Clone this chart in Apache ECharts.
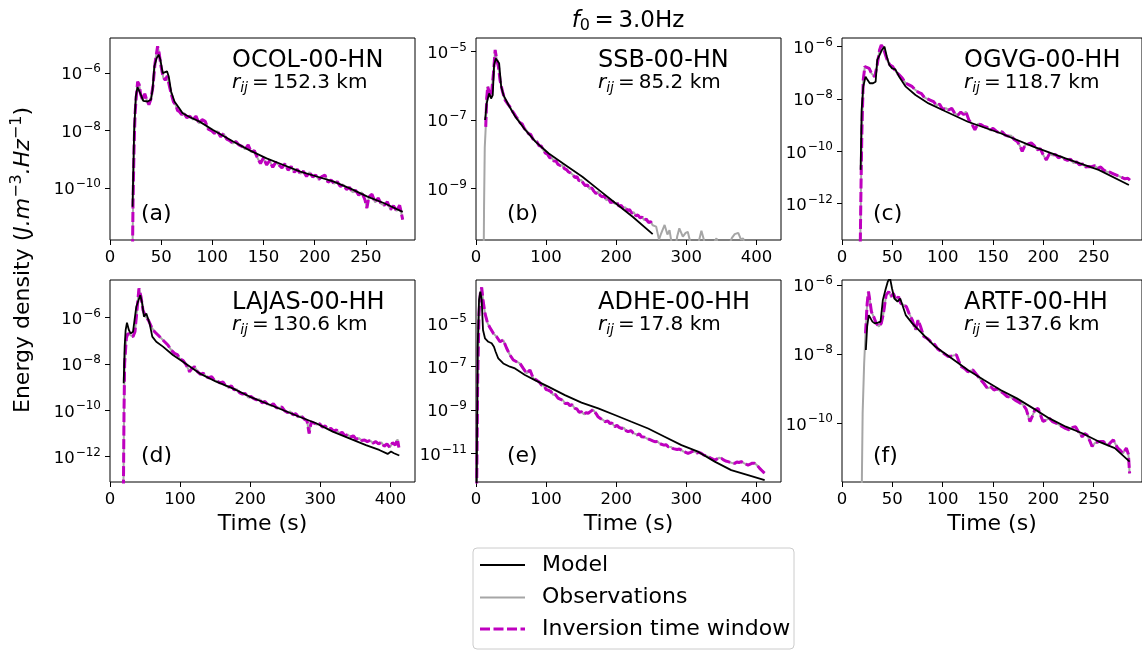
<!DOCTYPE html>
<html><head><meta charset="utf-8">
<script src="https://cdn.jsdelivr.net/npm/echarts@6/dist/echarts.min.js"></script>
<style>html,body{margin:0;padding:0;background:#fff}#c{width:1142px;height:650px}</style>
</head><body><div id="c"></div>
<script>
// ---------------- DATA (log10 of energy density) ----------------
const stations = ['OCOL-00-HN','SSB-00-HN','OGVG-00-HH','LAJAS-00-HH','ADHE-00-HH','ARTF-00-HH'];
const distances = ['152.3','85.2','118.7','130.6','17.8','137.6'];
const panelLabels = ['(a)','(b)','(c)','(d)','(e)','(f)'];
const xTicksShort = [0,50,100,150,200,250];
const xTicksLong = [0,100,200,300,400];
const yTicksA = [-10,-8,-6];
const yTicksB = [-9,-7,-5];
const yTicksC = [-12,-10,-8,-6];
const yTicksD = [-12,-10,-8,-6];
const yTicksE = [-11,-9,-7,-5];
const yTicksF = [-10,-8,-6];
const seriesNames = ['Model','Observations','Inversion time window'];
// inversion time windows (s)
const windows = [[0,1000],[13.5,252.5],[0,1000],[0,1000],[0,1000],[23.3,1000]];

const modelA = [[22,-10.65],[23.6,-7.98],[25.2,-6.81],[26.9,-6.49],[28.2,-6.44],[30.2,-6.76],[32.5,-6.97],[36.7,-6.99],[40,-6.93],[41.6,-6.58],[43.3,-5.77],[45.6,-5.48],[47.5,-5.36],[49.2,-5.53],[51.5,-6.0],[53.4,-6.06],[55.7,-5.94],[57.4,-6.12],[59.7,-6.64],[63,-6.99],[68,-7.24],[71,-7.4],[77.7,-7.53],[87.5,-7.69],[100.7,-7.98],[120.3,-8.38],[137,-8.7],[153,-8.97],[169.5,-9.2],[186,-9.43],[202,-9.6],[218.7,-9.78],[235,-10.02],[251.5,-10.3],[268,-10.53],[286,-10.83]];
const obsA = [[21.5,-14],[22.5,-10.5],[23.5,-8.6],[24.5,-7.4],[25.5,-6.9],[27,-6.3],[28.5,-6.4],[30,-6.75],[32,-6.95],[34,-6.72],[36,-6.95],[38,-7.1],[40,-6.9],[42,-6.45],[44,-5.65],[46.5,-5.07],[48,-5.3],[50,-5.8],[52,-6.15],[54,-6.25],[56,-6.1],[58,-6.45],[60,-6.75],[62,-7.0],[64,-7.1],[66,-7.3],[68,-7.35],[70,-7.45],[72,-7.38],[75,-7.55],[78,-7.5],[81,-7.62],[84,-7.5],[87,-7.75],[90,-7.62],[93,-7.68],[96,-7.95],[99,-8.0],[102,-8.1],[105,-8.02],[108,-8.22],[111,-8.1],[114,-8.3],[117,-8.35],[120,-8.45],[123,-8.38],[126,-8.5],[129,-8.55],[132,-8.65],[135,-8.5],[138,-8.75],[141,-8.7],[144,-8.95],[147,-9.15],[150,-8.95],[153,-9.2],[156,-9.05],[159,-9.28],[162,-9.1],[165,-9.2],[168,-9.3],[171,-9.15],[174,-9.38],[177,-9.25],[180,-9.45],[183,-9.35],[186,-9.5],[189,-9.42],[192,-9.6],[195,-9.45],[198,-9.62],[201,-9.55],[204,-9.7],[207,-9.6],[210,-9.55],[213,-9.8],[216,-9.72],[219,-9.85],[222,-9.78],[225,-9.95],[228,-9.88],[231,-10.05],[234,-9.98],[237,-10.15],[240,-10.08],[243,-10.25],[246,-10.15],[249,-10.4],[251,-10.7],[253,-10.3],[256,-10.22],[259,-10.5],[262,-10.35],[265,-10.55],[268,-10.6],[271,-10.48],[274,-10.75],[277,-10.62],[280,-10.8],[283,-10.6],[286,-11.1]];

const modelB = [[12.9,-7.0],[15.3,-6.51],[18.7,-6.22],[21.5,-6.37],[23.9,-6.27],[25.8,-5.39],[28.2,-5.2],[30.6,-5.15],[33,-5.34],[35.9,-6.02],[39.2,-6.27],[46.4,-6.56],[56,-6.9],[70.3,-7.29],[84.7,-7.63],[103.8,-7.98],[127.8,-8.32],[151.7,-8.66],[175.6,-9.05],[199.5,-9.44],[223.4,-9.83],[252,-10.34]];
const obsB = [[10.8,-11.5],[11.5,-9.5],[12.5,-7.8],[13.9,-7.2],[15.3,-6.35],[16.7,-6.02],[18.7,-6.17],[20.6,-6.32],[22.5,-6.15],[24.9,-5.63],[27.3,-4.95],[29.7,-5.24],[32,-5.44],[34.4,-5.85],[37.8,-6.17],[41.6,-6.42],[45,-6.52],[48,-6.6],[51,-6.72],[54,-6.8],[57,-6.9],[60,-6.98],[63,-7.08],[66,-7.12],[69,-7.25],[72,-7.3],[75,-7.4],[78,-7.42],[81,-7.55],[84,-7.6],[87,-7.64],[90,-7.75],[93,-7.76],[96,-7.88],[99,-7.97],[102,-8.0],[105,-8.1],[108,-8.1],[111,-8.2],[114,-8.2],[117,-8.3],[120,-8.33],[123,-8.32],[126,-8.42],[129,-8.45],[132,-8.52],[135,-8.55],[138,-8.6],[141,-8.68],[144,-8.66],[147,-8.78],[150,-8.75],[153,-8.85],[156,-8.92],[159,-8.9],[162,-9.02],[165,-8.98],[168,-9.08],[171,-9.15],[174,-9.1],[177,-9.2],[180,-9.25],[183,-9.22],[186,-9.35],[189,-9.3],[192,-9.42],[195,-9.38],[198,-9.45],[201,-9.42],[204,-9.52],[207,-9.5],[210,-9.58],[213,-9.55],[216,-9.65],[219,-9.62],[222,-9.72],[225,-9.7],[228,-9.8],[231,-9.78],[234,-9.86],[237,-9.84],[240,-9.93],[243,-9.9],[246,-10.0],[249,-9.97],[252,-10.08],[257,-10.12],[261,-10.5],[264,-10.32],[269,-10.07],[273,-10.35],[276,-10.22],[279,-10.6],[283,-10.9],[287,-10.4],[290,-10.17],[295,-10.41],[299,-10.3],[302,-10.27],[306,-10.6],[310,-11],[316,-10.7],[321.5,-10.24],[325,-10.5],[329,-10.9],[336,-10.7],[343,-10.46],[347,-10.8],[353,-11],[360,-10.7],[365,-10.45],[369,-10.34],[374,-10.3],[378,-10.5],[381,-10.46],[386,-10.9],[393,-11.2],[400,-11.3],[410,-11.3]];

const modelC = [[18.5,-10.71],[19.5,-8.42],[21.1,-7.53],[23.4,-7.15],[25.3,-7.27],[27.6,-7.4],[30.8,-7.4],[33.4,-7.34],[35,-6.51],[37.3,-6.32],[39.6,-6.13],[42.2,-6.0],[44.5,-6.38],[47,-6.7],[49.7,-6.83],[53,-6.87],[56.8,-7.15],[63.3,-7.53],[73,-7.85],[86,-8.17],[102,-8.46],[125,-8.87],[157.5,-9.31],[190,-9.82],[222,-10.27],[255,-10.71],[285,-11.29]];
const obsC = [[18,-14],[19,-11],[19.8,-9.18],[21.1,-7.27],[22.7,-6.76],[24.4,-6.7],[27,-6.83],[29.2,-7.02],[32.5,-7.15],[34.7,-6.76],[37.3,-6.13],[39,-5.94],[41.2,-6.06],[43.2,-6.32],[45.5,-6.57],[47.7,-6.7],[50.3,-6.76],[53.6,-6.96],[56.8,-7.08],[60,-7.21],[63.3,-7.4],[66.6,-7.46],[69.8,-7.53],[73,-7.66],[76,-7.75],[79,-7.8],[82,-7.95],[85,-8.0],[88,-8.05],[91,-8.1],[94,-8.25],[97,-8.2],[100,-8.4],[103,-8.35],[106,-8.42],[109,-8.36],[112,-8.55],[115,-8.62],[118,-8.5],[121,-8.6],[123,-8.48],[126,-8.8],[129,-8.95],[132,-9.18],[135,-8.95],[138,-8.98],[141,-9.05],[144,-9.08],[147,-9.2],[150,-9.12],[153,-9.22],[156,-9.3],[159,-9.25],[162,-9.38],[165,-9.42],[168,-9.4],[171,-9.55],[174,-9.62],[177,-9.82],[179,-10.0],[182,-9.75],[185,-9.72],[188,-9.68],[191,-9.78],[194,-9.95],[197,-9.9],[200,-10.15],[203,-10.33],[206,-10.1],[209,-10.15],[212,-10.12],[215,-10.25],[218,-10.2],[221,-10.3],[224,-10.35],[227,-10.3],[230,-10.45],[233,-10.4],[236,-10.52],[239,-10.48],[242,-10.6],[245,-10.58],[248,-10.59],[251,-10.55],[254,-10.65],[257,-10.6],[260,-10.72],[263,-10.78],[266,-10.8],[269,-10.85],[272,-10.9],[275,-10.95],[278,-11.0],[281,-11.05],[284,-11.03],[286,-11.1]];

const modelD = [[19.5,-8.84],[20.9,-7.26],[22.3,-6.55],[24.2,-6.23],[27,-6.55],[29.4,-6.69],[32.8,-6.62],[35.1,-6.69],[37.5,-5.54],[40.8,-5.25],[43.2,-5.04],[46,-5.4],[48.4,-5.97],[51.8,-5.83],[54.1,-5.76],[56.5,-6.26],[60.3,-6.83],[66,-7.05],[75.5,-7.26],[89.7,-7.62],[104,-7.91],[127.7,-8.41],[151.5,-8.77],[175,-9.06],[199,-9.41],[222.7,-9.7],[246.4,-9.99],[270,-10.28],[294,-10.56],[317.7,-10.92],[341.4,-11.21],[365,-11.5],[384,-11.71],[396,-11.88],[400.8,-11.78],[405,-11.85],[412.6,-11.95]];
const obsD = [[19,-14],[20,-10],[20.9,-7.98],[23.3,-6.9],[25.6,-6.69],[29,-6.76],[32.8,-6.83],[35.6,-6.62],[38.5,-5.68],[41.3,-4.75],[44.2,-5.11],[47,-5.68],[50.8,-5.97],[54.6,-6.11],[58.9,-6.4],[63.6,-6.62],[68.4,-6.76],[73,-6.9],[77.9,-7.05],[82.6,-7.19],[87.4,-7.41],[92,-7.55],[96,-7.6],[100,-7.8],[104,-7.85],[108.7,-8.05],[113.5,-8.34],[117,-8.2],[120.6,-8.12],[125,-8.35],[129,-8.45],[133,-8.4],[137,-8.55],[141,-8.6],[145,-8.55],[149,-8.72],[153,-8.75],[157,-8.82],[161,-8.78],[165,-8.95],[169,-9.0],[173,-8.95],[177,-9.12],[181,-9.1],[185,-9.25],[189,-9.3],[193,-9.28],[197,-9.45],[201,-9.4],[205,-9.5],[209,-9.55],[213,-9.52],[217,-9.68],[221,-9.62],[225,-9.75],[229,-9.8],[233,-9.72],[237,-9.88],[241,-9.92],[245,-9.85],[249,-10.02],[253,-10.1],[257,-10.05],[261,-10.2],[265,-10.15],[269,-10.3],[273,-10.25],[277,-10.38],[281,-10.45],[284,-11.0],[287,-10.5],[291,-10.55],[295,-10.62],[299,-10.58],[303,-10.72],[307,-10.68],[311,-10.82],[315,-10.78],[319,-10.9],[323,-10.85],[327,-11.0],[331,-10.95],[335,-11.1],[339,-11.05],[343,-11.15],[347,-11.1],[351,-11.25],[355,-11.2],[359,-11.3],[363,-11.28],[367,-11.35],[371,-11.3],[375,-11.42],[379,-11.35],[383,-11.45],[387,-11.38],[391,-11.55],[395,-11.45],[399,-11.6],[403,-11.4],[407,-11.5],[410,-11.25],[412,-11.6]];

const modelE = [[0.8,-13],[1.5,-10],[2.4,-6.08],[4.3,-3.92],[6.2,-3.54],[8.1,-3.92],[10,-5.31],[12.8,-5.69],[17.6,-5.85],[22.3,-5.92],[25.6,-6.08],[28,-6.31],[31.8,-6.62],[38.9,-6.85],[48.4,-7.0],[55.6,-7.08],[69.8,-7.38],[84,-7.62],[103,-7.92],[126.8,-8.31],[150.5,-8.66],[174.3,-8.92],[198,-9.23],[221.7,-9.54],[245.5,-9.85],[269,-10.23],[293,-10.62],[316.7,-10.92],[340.5,-11.38],[364,-11.77],[388,-12.0],[411.7,-12.23]];
const obsE = [[0.5,-14],[1.2,-11.9],[2.4,-7.6],[4.3,-4.54],[6.2,-3.62],[8.1,-3.34],[10,-3.92],[12.8,-4.54],[16.6,-5.0],[20.4,-5.23],[24.7,-5.46],[29.4,-5.62],[34.2,-5.85],[38.9,-5.77],[43.7,-6.15],[48.4,-6.46],[53.2,-6.69],[57.9,-6.77],[62.7,-6.85],[67.4,-7.08],[72.2,-7.31],[77,-7.15],[81.7,-7.54],[86.4,-7.62],[90,-7.7],[93.5,-7.85],[97,-7.88],[100,-8.05],[103,-8.08],[107,-8.15],[110,-8.3],[113,-8.28],[117,-8.45],[120,-8.5],[124,-8.55],[127,-8.7],[131,-8.69],[134,-8.8],[137,-8.75],[141,-8.92],[144,-8.95],[147,-9.1],[150.5,-9.08],[154,-9.2],[157,-9.12],[160,-9.15],[164,-9.05],[167,-8.98],[169.5,-8.92],[172,-9.2],[174,-9.31],[178,-9.4],[181,-9.45],[184,-9.54],[188,-9.5],[191,-9.62],[194,-9.6],[198,-9.77],[201,-9.7],[204,-9.8],[207.5,-9.85],[211,-9.82],[214,-9.95],[217,-10.0],[221,-9.95],[224,-10.05],[226.5,-10.08],[230,-10.15],[233,-10.1],[236,-10.23],[240,-10.25],[243,-10.3],[245.5,-10.35],[249,-10.38],[252,-10.42],[255,-10.46],[259,-10.45],[262,-10.55],[264.5,-10.54],[268,-10.62],[271,-10.6],[274,-10.69],[278,-10.7],[281,-10.78],[283.5,-10.77],[287,-10.82],[290,-10.8],[293,-10.85],[296,-10.92],[299,-10.95],[302.5,-11.0],[306,-10.95],[309,-10.9],[312,-10.92],[315,-10.98],[318,-10.95],[321.5,-11.0],[325,-11.08],[328,-11.1],[331,-11.15],[334,-11.2],[337,-11.25],[340.5,-11.31],[344,-11.25],[347,-11.2],[350,-11.23],[353,-11.3],[356,-11.35],[359.5,-11.38],[363,-11.42],[366,-11.45],[369,-11.46],[372,-11.4],[375,-11.42],[378.4,-11.38],[382,-11.45],[385,-11.5],[388,-11.54],[391,-11.5],[394,-11.45],[397.4,-11.46],[401,-11.55],[404.6,-11.69],[408,-11.8],[411.7,-11.92]];

const modelF = [[23.7,-7.88],[25,-7.2],[26.6,-6.87],[28.2,-6.82],[30.2,-7.06],[32.5,-7.11],[35.7,-7.09],[38.3,-7.06],[40.6,-6.43],[43.2,-6.14],[45.5,-5.9],[47.7,-5.8],[49.7,-6.1],[52,-6.39],[55.2,-6.48],[57.8,-6.39],[60,-6.58],[63.3,-6.87],[69.8,-7.11],[79.5,-7.4],[92.5,-7.78],[108.8,-8.12],[125,-8.46],[141,-8.75],[157.5,-9.04],[173.7,-9.28],[190,-9.57],[206,-9.86],[222.4,-10.1],[238.6,-10.29],[255,-10.53],[271,-10.72],[285.7,-11.11]];
const obsF = [[19,-14],[19.8,-11.5],[20.5,-9.71],[22,-8.27],[23.4,-7.4],[25,-6.53],[26.3,-6.19],[27.6,-6.43],[29.2,-6.77],[31.5,-6.92],[34,-7.11],[36.7,-7.2],[39,-7.11],[41.2,-6.82],[43.8,-6.29],[46.4,-6.19],[48.7,-6.34],[51,-6.24],[53.6,-6.43],[56.2,-6.34],[58.4,-6.53],[61.7,-6.58],[64,-6.63],[66.6,-6.82],[69.8,-7.01],[73,-7.3],[75.6,-7.01],[78,-7.2],[81.2,-7.49],[84.4,-7.54],[87,-7.6],[89.3,-7.69],[92,-7.72],[95,-7.85],[99,-7.93],[102,-8.0],[105.5,-8.07],[109,-8.05],[113.6,-8.02],[116,-8.2],[118.5,-8.36],[122,-8.42],[125,-8.51],[130,-8.46],[134,-8.6],[138,-8.75],[141,-8.85],[144.5,-8.99],[148,-8.95],[151,-9.04],[154,-9.0],[157.5,-9.08],[161,-9.15],[164,-9.23],[168,-9.25],[172,-9.33],[176,-9.4],[180,-9.47],[183,-9.6],[186.7,-9.95],[189,-9.8],[191.6,-9.61],[194.8,-9.57],[197,-9.75],[199.7,-9.95],[203,-9.9],[206,-9.86],[209,-9.95],[212.7,-10.0],[216,-10.05],[219,-10.1],[222,-10.15],[225.6,-10.19],[229,-10.12],[232,-10.1],[235,-10.25],[238.6,-10.39],[241,-10.3],[243.5,-10.34],[246,-10.5],[248.4,-10.67],[251,-10.58],[255,-10.53],[259.7,-10.53],[262,-10.6],[264.6,-10.63],[267,-10.55],[269.5,-10.48],[272,-10.62],[274,-10.72],[277,-10.8],[279,-10.87],[282.5,-10.72],[284.5,-10.9],[285.7,-11.45]];

// ---------------- LAYOUT ----------------
const FONT = '"DejaVu Sans", "Liberation Sans", sans-serif';
const colLeft = [110, 476, 842];
const rowTop = [38, 280];
const gridW = 305, gridH = 202;
const xMaxes = [298, 435, 298, 435, 435, 298];
const yRanges = [[-11.81,-4.78],[-10.51,-4.60],[-13.39,-5.67],[-13.09,-4.39],[-12.32,-3.0],[-11.70,-5.855]];
const yTickSets = [yTicksA, yTicksB, yTicksC, yTicksD, yTicksE, yTicksF];
const xTickSets = [xTicksShort, xTicksLong, xTicksShort, xTicksLong, xTicksLong, xTicksShort];
const models = [modelA, modelB, modelC, modelD, modelE, modelF];
const observations = [obsA, obsB, obsC, obsD, obsE, obsF];
const C_MODEL = '#000000', C_OBS = '#a6a6a6', C_WIN = '#bf00bf';
const STYLE_MODEL = {color: C_MODEL, width: 1.8};
const STYLE_OBS = {color: C_OBS, width: 2};
const STYLE_WIN = {color: C_WIN, width: 3, type: [10, 3.5]};

function supLabel(v) {
  const s = (v < 0 ? '\u2212' : '') + Math.abs(v);
  return '{b|10}{s|' + s + '}';
}

const grids = [], xAxes = [], yAxes = [], series = [], graphics = [];
for (let i = 0; i < 6; i++) {
  const row = Math.floor(i / 3), col = i % 3;
  const left = colLeft[col], top = rowTop[row];
  grids.push({left: left, top: top, width: gridW, height: gridH, show: true,
    borderColor: '#000', borderWidth: 1, backgroundColor: 'transparent', containLabel: false});
  xAxes.push({type: 'value', gridIndex: i, min: 0, max: xMaxes[i],
    axisLine: {show: false}, splitLine: {show: false},
    axisTick: {show: true, length: 5, customValues: xTickSets[i], lineStyle: {color: '#000', width: 1}},
    axisLabel: {show: true, customValues: xTickSets[i], color: '#000', fontSize: 16.5, fontFamily: FONT, margin: 9},
    name: row === 1 ? 'Time (s)' : '', nameLocation: 'middle', nameGap: 31,
    nameTextStyle: {fontSize: 22, fontFamily: FONT, color: '#000'}});
  yAxes.push({type: 'value', gridIndex: i, min: yRanges[i][0], max: yRanges[i][1],
    axisLine: {show: false}, splitLine: {show: false},
    axisTick: {show: true, length: 5, customValues: yTickSets[i], lineStyle: {color: '#000', width: 1}},
    axisLabel: {show: true, customValues: yTickSets[i], margin: 9, formatter: supLabel,
      rich: {b: {fontSize: 16.5, fontFamily: FONT, color: '#000', padding: [4, 0, 0, 0]},
             s: {fontSize: 12, fontFamily: FONT, color: '#000', padding: [0, 0, 8, 1]}}}});
  const win = windows[i];
  series.push({name: seriesNames[1], type: 'line', xAxisIndex: i, yAxisIndex: i,
    data: observations[i], showSymbol: false, symbol: 'none', silent: true, z: 2,
    lineStyle: STYLE_OBS, itemStyle: {color: C_OBS}});
  series.push({name: seriesNames[2], type: 'line', xAxisIndex: i, yAxisIndex: i,
    data: observations[i].filter(p => p[0] >= win[0] && p[0] <= win[1]),
    showSymbol: false, symbol: 'none', silent: true, z: 3,
    lineStyle: STYLE_WIN, itemStyle: {color: C_WIN}});
  series.push({name: seriesNames[0], type: 'line', xAxisIndex: i, yAxisIndex: i,
    data: models[i], showSymbol: false, symbol: 'none', silent: true, z: 4,
    lineStyle: STYLE_MODEL, itemStyle: {color: C_MODEL}});
  // annotations
  graphics.push({type: 'text', x: left + 122, y: top + 23, silent: true,
    style: {text: stations[i], fill: '#000', font: '24px ' + FONT, align: 'left', verticalAlign: 'middle'}});
  graphics.push({type: 'text', x: left + 122, y: top + 45, silent: true,
    style: {text: '{r|r}{s|ij}{n|\u2009=\u2009' + distances[i] + ' km}', fill: '#000', font: '20px ' + FONT,
      align: 'left', verticalAlign: 'middle',
      rich: {r: {fontSize: 20, fontFamily: FONT, fontStyle: 'italic', fill: '#000'},
             s: {fontSize: 14, fontFamily: FONT, fontStyle: 'italic', fill: '#000', padding: [10, 0, 0, 0]},
             n: {fontSize: 20, fontFamily: FONT, fill: '#000'}}}});
  graphics.push({type: 'text', x: left + 31, y: top + 176, silent: true,
    style: {text: panelLabels[i], fill: '#000', font: '22px ' + FONT, align: 'left', verticalAlign: 'middle'}});
}

// title
graphics.push({type: 'text', x: 628, y: 21, silent: true,
  style: {text: '{f|f}{s|0}{n|\u2009=\u20093.0Hz}', fill: '#000', font: '23px ' + FONT, align: 'center', verticalAlign: 'middle',
    rich: {f: {fontSize: 23, fontFamily: FONT, fontStyle: 'italic', fill: '#000'},
           s: {fontSize: 16, fontFamily: FONT, fill: '#000', padding: [10, 0, 0, 0]},
           n: {fontSize: 23, fontFamily: FONT, fill: '#000'}}}});
// y label
graphics.push({type: 'text', x: 23, y: 260, rotation: Math.PI / 2, silent: true,
  style: {text: '{n|Energy density (}{i|J.m}{p|\u22123}{i|.Hz}{p|\u22121}{n|)}', fill: '#000', font: '22px ' + FONT,
    align: 'center', verticalAlign: 'middle',
    rich: {n: {fontSize: 22, fontFamily: FONT, fill: '#000'},
           i: {fontSize: 22, fontFamily: FONT, fontStyle: 'italic', fill: '#000'},
           p: {fontSize: 16, fontFamily: FONT, fill: '#000', padding: [0, 0, 12, 0]}}}});

// legend (drawn as graphic: frame, line samples, labels)
const legendStyles = [STYLE_MODEL, STYLE_OBS, STYLE_WIN];
const legendRowY = [565, 597.5, 629];
const legendChildren = [{type: 'rect', shape: {x: 473, y: 548, width: 321, height: 101, r: 4},
  style: {fill: 'rgba(255,255,255,0.8)', stroke: '#cccccc', lineWidth: 1}, silent: true}];
seriesNames.forEach((nm, k) => {
  const st = legendStyles[k];
  legendChildren.push({type: 'line', silent: true,
    shape: {x1: 480, y1: legendRowY[k], x2: 525, y2: legendRowY[k]},
    style: {stroke: st.color, lineWidth: st.width, lineDash: st.type || null}});
  legendChildren.push({type: 'text', x: 542, y: legendRowY[k], silent: true,
    style: {text: nm, fill: '#000', font: '22px ' + FONT, align: 'left', verticalAlign: 'middle'}});
});
graphics.push({type: 'group', children: legendChildren});

const chart = echarts.init(document.getElementById('c'), null, {renderer: 'canvas'});
chart.setOption({
  animation: false,
  backgroundColor: '#fff',
  grid: grids, xAxis: xAxes, yAxis: yAxes, series: series,
  graphic: graphics
});
</script></body></html>
